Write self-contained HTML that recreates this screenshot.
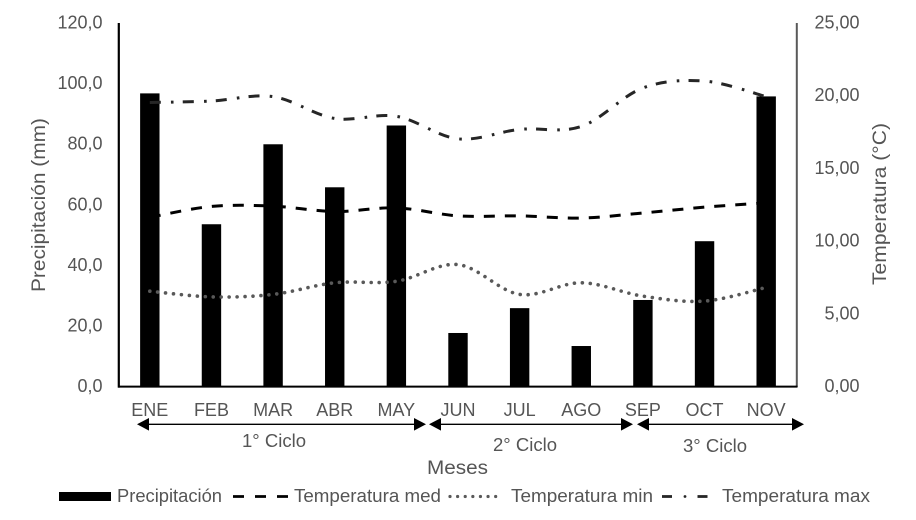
<!DOCTYPE html>
<html lang="es">
<head>
<meta charset="utf-8">
<title>Precipitación y temperatura</title>
<style>
html,body{margin:0;padding:0;background:#fff;width:916px;height:520px;overflow:hidden}
svg{display:block}
text{font-family:"Liberation Sans",Arial,sans-serif;fill:#555}
</style>
</head>
<body>
<svg id="chart" width="916" height="520" viewBox="0 0 916 520" xmlns="http://www.w3.org/2000/svg">
  <rect width="916" height="520" fill="#fff"/>
  <g id="bars"></g>
  <g id="lines"></g>
  <line x1="118.8" y1="23" x2="118.8" y2="387.6" stroke="#000" stroke-width="2.2"/>
  <line x1="796.8" y1="23" x2="796.8" y2="387" stroke="#595959" stroke-width="2"/>
  <line x1="118" y1="386.6" x2="797.5" y2="386.6" stroke="#000" stroke-width="2"/>
  <g id="left-ticks"></g>
  <g id="right-ticks"></g>
  <g id="x-ticks"></g>
  <text transform="translate(45,292) rotate(-90)" font-size="19" textLength="174" lengthAdjust="spacingAndGlyphs">Precipitación (mm)</text>
  <text transform="translate(886,285) rotate(-90)" font-size="19" textLength="162" lengthAdjust="spacingAndGlyphs">Temperatura (°C)</text>
  <text x="457.5" y="474" font-size="19.5" text-anchor="middle" textLength="61" lengthAdjust="spacingAndGlyphs">Meses</text>

  <g>
    <line x1="148" y1="424.3" x2="416" y2="424.3" stroke="#000" stroke-width="1.3"/>
    <polygon points="137,424.3 149,418 149,430.6" fill="#000"/>
    <polygon points="426,424.3 414,418 414,430.6" fill="#000"/>
  </g>
  <g>
    <line x1="440" y1="424.3" x2="622" y2="424.3" stroke="#000" stroke-width="1.3"/>
    <polygon points="429,424.3 441,418 441,430.6" fill="#000"/>
    <polygon points="633,424.3 621,418 621,430.6" fill="#000"/>
  </g>
  <g>
    <line x1="648" y1="424.3" x2="794" y2="424.3" stroke="#000" stroke-width="1.3"/>
    <polygon points="637,424.3 649,418 649,430.6" fill="#000"/>
    <polygon points="804,424.3 792,418 792,430.6" fill="#000"/>
  </g>
  <text x="274" y="447" font-size="18" text-anchor="middle" textLength="64" lengthAdjust="spacingAndGlyphs">1° Ciclo</text>
  <text x="525" y="451" font-size="18" text-anchor="middle" textLength="64" lengthAdjust="spacingAndGlyphs">2° Ciclo</text>
  <text x="715" y="452" font-size="18" text-anchor="middle" textLength="64" lengthAdjust="spacingAndGlyphs">3° Ciclo</text>

  <g>
    <g>
      <rect x="59" y="492" width="52" height="9" fill="#000"/>
      <text x="117" y="502" font-size="18" textLength="105" lengthAdjust="spacingAndGlyphs">Precipitación</text>
    </g>
    <g>
      <line x1="233" y1="496.5" x2="288" y2="496.5" stroke="#000" stroke-width="2.8" stroke-dasharray="11 11"/>
      <text x="294" y="502" font-size="18" textLength="147" lengthAdjust="spacingAndGlyphs">Temperatura med</text>
    </g>
    <g>
      <line x1="450" y1="496.5" x2="503" y2="496.5" stroke="#595959" stroke-width="3.2" stroke-linecap="round" stroke-dasharray="0.01 7.6"/>
      <text x="511" y="502" font-size="18" textLength="142" lengthAdjust="spacingAndGlyphs">Temperatura min</text>
    </g>
    <g>
      <line x1="662" y1="496.5" x2="672" y2="496.5" stroke="#262626" stroke-width="2.8"/>
      <circle cx="685" cy="496.5" r="1.4" fill="#262626"/>
      <line x1="697.5" y1="496.5" x2="707.5" y2="496.5" stroke="#262626" stroke-width="2.8"/>
      <text x="722" y="502" font-size="18" textLength="148" lengthAdjust="spacingAndGlyphs">Temperatura max</text>
    </g>
  </g>
</svg>
<script>
var months = ['ENE','FEB','MAR','ABR','MAY','JUN','JUL','AGO','SEP','OCT','NOV'];
var precipitation = [96.6,53.4,79.8,65.6,86.0,17.5,25.7,13.2,28.4,47.8,95.6];
var tempMed = [11.6,12.35,12.37,12.0,12.25,11.7,11.7,11.55,11.9,12.3,12.6];
var tempMin = [6.52,6.13,6.3,7.1,7.2,8.35,6.3,7.1,6.18,5.84,6.78];
var tempMax = [19.5,19.6,19.9,18.4,18.55,17.0,17.65,17.85,20.5,20.97,19.9];
var leftTicks = [0,20,40,60,80,100,120];
var rightTicks = [0,5,10,15,20,25];

var svgNS = 'http://www.w3.org/2000/svg';
function xPos(i){ return 119 + (i + 0.5) * 678 / months.length; }
function yLeft(v){ return 386 - v * 363.5 / 120; }
function yRight(v){ return 386 - v * 363.5 / 25; }
function node(tag, attrs, parent){
  var el = document.createElementNS(svgNS, tag);
  for (var k in attrs) el.setAttribute(k, attrs[k]);
  parent.appendChild(el);
  return el;
}
function smoothPath(values){
  var p = values.map(function(v,i){ return [xPos(i), yRight(v)]; });
  var d = 'M' + p[0][0].toFixed(2) + ' ' + p[0][1].toFixed(2);
  for (var i = 0; i < p.length - 1; i++){
    var p0 = p[Math.max(i-1,0)], p1 = p[i], p2 = p[i+1], p3 = p[Math.min(i+2,p.length-1)];
    var c1x = p1[0] + (p2[0]-p0[0])/6, c1y = p1[1] + (p2[1]-p0[1])/6;
    var c2x = p2[0] - (p3[0]-p1[0])/6, c2y = p2[1] - (p3[1]-p1[1])/6;
    d += ' C' + c1x.toFixed(2) + ' ' + c1y.toFixed(2) + ' ' + c2x.toFixed(2) + ' ' + c2y.toFixed(2) + ' ' + p2[0].toFixed(2) + ' ' + p2[1].toFixed(2);
  }
  return d;
}

var barsGroup = document.getElementById('bars');
precipitation.forEach(function(v,i){
  var bar = node('rect', {x: xPos(i) - 9.7, y: yLeft(v), width: 19.4, height: yLeft(0) - yLeft(v), fill: '#000'}, barsGroup);
  
  
});

var linesGroup = document.getElementById('lines');
var lineMed = node('path', {d: smoothPath(tempMed), fill: 'none', stroke: '#000', 'stroke-width': 3, 'stroke-dasharray': '11 10'}, linesGroup);


var lineMin = node('path', {d: smoothPath(tempMin), fill: 'none', stroke: '#595959', 'stroke-width': 3.6, 'stroke-linecap': 'round', 'stroke-dasharray': '0.01 7.95'}, linesGroup);


var lineMax = node('path', {d: smoothPath(tempMax), fill: 'none', stroke: '#262626', 'stroke-width': 3, 'stroke-dasharray': '11 10.2 2.6 9.2'}, linesGroup);



var leftGroup = document.getElementById('left-ticks');
leftTicks.forEach(function(v){
  var t = node('text', {x: 102.5, y: yLeft(v) + 6, 'font-size': 18, 'text-anchor': 'end'}, leftGroup);
  
  
  t.textContent = v.toFixed(1).replace('.', ',');
});
var rightGroup = document.getElementById('right-ticks');
rightTicks.forEach(function(v){
  var t = node('text', {x: 859.5, y: yRight(v) + 6, 'font-size': 18, 'text-anchor': 'end'}, rightGroup);
  
  
  t.textContent = v.toFixed(2).replace('.', ',');
});
var xGroup = document.getElementById('x-ticks');
months.forEach(function(m,i){
  var t = node('text', {x: xPos(i), y: 416, 'font-size': 18, 'text-anchor': 'middle'}, xGroup);
  
  
  t.textContent = m;
});
</script>
</body>
</html>
